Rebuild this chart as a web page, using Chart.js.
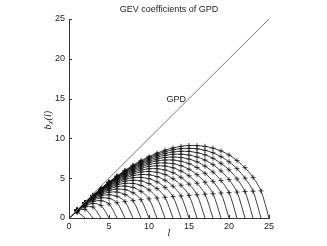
<!DOCTYPE html>
<html>
<head>
<meta charset="utf-8">
<script src="https://cdn.jsdelivr.net/npm/chart.js@4/dist/chart.umd.min.js"></script>
<style>
  html, body { margin: 0; padding: 0; background: #fff; }
</style>
</head>
<body>
<canvas id="myChart" width="327" height="246"></canvas>
<script>
  // axis ticks
  var tickValues = [0, 5, 10, 15, 20, 25];

  // GPD reference line b = l
  var gpdL = [0, 25];
  var gpdB = [0, 25];

  // b_chi(l) at l = 1 .. n-1, one row per curve n = 2 .. 25
  var bValues = [
    [0.69],
    [0.82, 1.09],
    [0.87, 1.39, 1.37],
    [0.90, 1.54, 1.82, 1.58],
    [0.92, 1.64, 2.08, 2.17, 1.77],
    [0.94, 1.70, 2.25, 2.53, 2.47, 1.92],
    [0.95, 1.75, 2.37, 2.78, 2.92, 2.73, 2.06],
    [0.95, 1.78, 2.46, 2.95, 3.24, 3.26, 2.95, 2.19],
    [0.96, 1.81, 2.53, 3.08, 3.47, 3.64, 3.56, 3.17, 2.30],
    [0.96, 1.83, 2.58, 3.19, 3.65, 3.94, 4.01, 3.84, 3.35, 2.41],
    [0.97, 1.85, 2.62, 3.28, 3.79, 4.16, 4.35, 4.34, 4.10, 3.53, 2.51],
    [0.97, 1.86, 2.66, 3.35, 3.91, 4.35, 4.63, 4.74, 4.65, 4.32, 3.70, 2.60],
    [0.97, 1.87, 2.69, 3.40, 4.01, 4.50, 4.86, 5.06, 5.10, 4.94, 4.54, 3.85, 2.69],
    [0.97, 1.88, 2.71, 3.45, 4.10, 4.63, 5.04, 5.33, 5.46, 5.43, 5.20, 4.75, 3.99, 2.77],
    [0.98, 1.89, 2.73, 3.50, 4.17, 4.74, 5.20, 5.55, 5.77, 5.84, 5.74, 5.46, 4.93, 4.12, 2.85],
    [0.98, 1.90, 2.75, 3.53, 4.23, 4.84, 5.33, 5.74, 6.02, 6.18, 6.19, 6.03, 5.69, 5.11, 4.25, 2.92],
    [0.98, 1.91, 2.77, 3.56, 4.28, 4.91, 5.45, 5.90, 6.25, 6.47, 6.56, 6.52, 6.31, 5.91, 5.30, 4.37, 2.99],
    [0.98, 1.91, 2.78, 3.59, 4.33, 4.99, 5.56, 6.04, 6.44, 6.72, 6.89, 6.92, 6.83, 6.57, 6.13, 5.44, 4.49, 3.06],
    [0.98, 1.92, 2.80, 3.62, 4.37, 5.05, 5.66, 6.17, 6.61, 6.94, 7.17, 7.28, 7.28, 7.13, 6.83, 6.34, 5.61, 4.60, 3.14],
    [0.98, 1.92, 2.81, 3.64, 4.41, 5.11, 5.73, 6.28, 6.75, 7.13, 7.41, 7.60, 7.66, 7.60, 7.40, 7.06, 6.52, 5.77, 4.71, 3.19],
    [0.98, 1.93, 2.82, 3.66, 4.44, 5.15, 5.81, 6.38, 6.88, 7.30, 7.63, 7.87, 8.00, 8.02, 7.91, 7.67, 7.28, 6.70, 5.91, 4.82, 3.26],
    [0.98, 1.93, 2.83, 3.68, 4.47, 5.20, 5.87, 6.48, 6.99, 7.45, 7.82, 8.11, 8.29, 8.38, 8.37, 8.21, 7.94, 7.50, 6.87, 6.05, 4.91, 3.32],
    [0.98, 1.93, 2.84, 3.69, 4.50, 5.24, 5.93, 6.55, 7.11, 7.59, 8.00, 8.33, 8.57, 8.71, 8.75, 8.69, 8.50, 8.19, 7.71, 7.06, 6.19, 5.01, 3.37],
    [0.98, 1.94, 2.85, 3.71, 4.52, 5.28, 5.98, 6.63, 7.21, 7.71, 8.15, 8.52, 8.80, 9.00, 9.11, 9.09, 9.00, 8.77, 8.42, 7.92, 7.21, 6.32, 5.11, 3.41]
  ];

  var labelFont = '9px "Liberation Sans", Arial, sans-serif';

  var datasets = [];

  // GPD line
  datasets.push({
    data: gpdL.map(function(l, i) { return { x: l, y: gpdB[i] }; }),
    borderColor: '#7a7a7a',
    borderWidth: 1,
    pointRadius: 0,
    tension: 0
  });

  bValues.forEach(function(row, i) {
    var n = i + 2;
    var pts = [{ x: 0, y: 0 }];
    row.forEach(function(v, j) { pts.push({ x: j + 1, y: v }); });
    pts.push({ x: n, y: 0 });
    datasets.push({
      data: pts,
      borderColor: '#111',
      borderWidth: 0.8,
      tension: 0.3,
      pointStyle: 'cross',
      pointRadius: function(c) {
        return (c.dataIndex === 0 || c.dataIndex === n) ? 0 : 2.5;
      },
      pointBorderColor: '#111',
      pointBorderWidth: 0.8
    });
  });

  // extra text + inward tick marks, matlab style
  var decorations = {
    id: 'decorations',
    afterDraw: function(chart) {
      var ctx = chart.ctx;
      var xs = chart.scales.x, ys = chart.scales.y;
      var area = chart.chartArea;
      ctx.save();
      ctx.strokeStyle = '#333';
      ctx.lineWidth = 1;
      tickValues.forEach(function(v) {
        var px = Math.round(xs.getPixelForValue(v)) + 0.5;
        ctx.beginPath();
        ctx.moveTo(px, area.bottom);
        ctx.lineTo(px, area.bottom - 3);
        ctx.stroke();
        var py = Math.round(ys.getPixelForValue(v)) + 0.5;
        ctx.beginPath();
        ctx.moveTo(area.left, py);
        ctx.lineTo(area.left + 3, py);
        ctx.stroke();
      });

      ctx.fillStyle = '#222';
      ctx.font = labelFont;
      ctx.textAlign = 'center';
      ctx.textBaseline = 'middle';
      ctx.fillText('GEV coefficients of GPD', (area.left + area.right) / 2, 10);
      ctx.fillText('GPD', xs.getPixelForValue(13.4), ys.getPixelForValue(14.9));

      // x label
      ctx.font = 'italic 10px "Liberation Serif", serif';
      ctx.fillText('l', (area.left + area.right) / 2, 233);

      // y label b_chi(l)
      ctx.translate(48, 120);
      ctx.rotate(-Math.PI / 2);
      ctx.textAlign = 'left';
      var parts = [
        { t: 'b', f: 'italic 10px "Liberation Serif", serif', dy: 0 },
        { t: '\u03c7', f: 'italic 7px "Liberation Serif", serif', dy: 2 },
        { t: '(l)', f: 'italic 10px "Liberation Serif", serif', dy: 0 }
      ];
      var total = 0;
      parts.forEach(function(p) { ctx.font = p.f; p.w = ctx.measureText(p.t).width; total += p.w + 0.5; });
      var x0 = -total / 2;
      parts.forEach(function(p) {
        ctx.font = p.f;
        ctx.fillText(p.t, x0, p.dy);
        x0 += p.w + 0.5;
      });
      ctx.restore();
    }
  };

  var axisCommon = {
    type: 'linear',
    min: 0,
    max: 25,
    grid: { drawOnChartArea: false, drawTicks: false },
    border: { color: '#333', width: 1 },
    ticks: {
      stepSize: 5,
      color: '#222',
      font: { family: '"Liberation Sans", Arial, sans-serif', size: 9 },
      maxRotation: 0,
      autoSkip: false
    }
  };

  new Chart(document.getElementById('myChart'), {
    type: 'line',
    data: { datasets: datasets },
    options: {
      responsive: false,
      animation: false,
      devicePixelRatio: 1,
      layout: { padding: { left: 0, right: 58, top: 19, bottom: 0 } },
      plugins: { legend: { display: false }, tooltip: { enabled: false }, title: { display: false } },
      scales: {
        x: Object.assign({}, axisCommon, {
          position: 'bottom',
          ticks: Object.assign({}, axisCommon.ticks, { padding: 3 }),
          afterFit: function(s) { s.height = 28; }
        }),
        y: Object.assign({}, axisCommon, {
          position: 'left',
          ticks: Object.assign({}, axisCommon.ticks, { padding: 4 }),
          afterFit: function(s) { s.width = 69; }
        })
      }
    },
    plugins: [decorations]
  });
</script>
</body>
</html>
